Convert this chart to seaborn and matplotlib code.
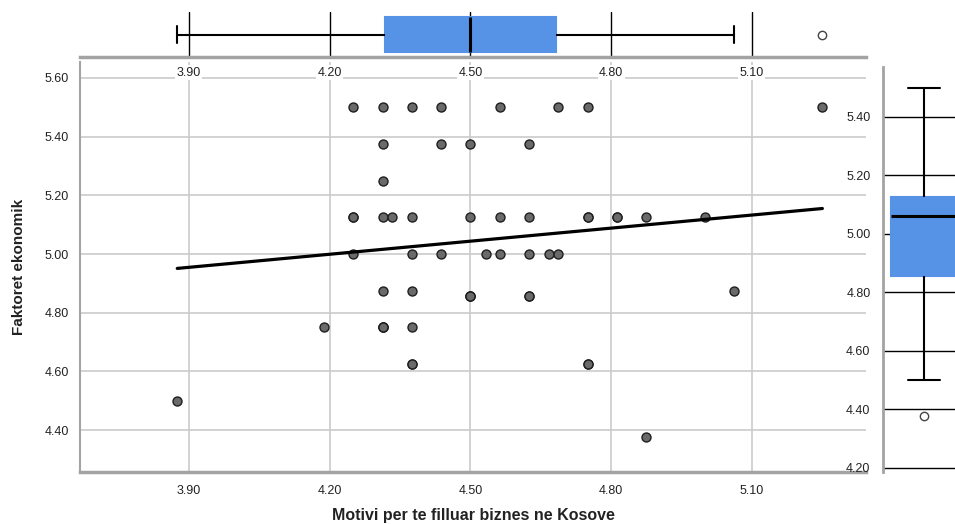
import numpy as np
import pandas as pd
import seaborn as sns
import matplotlib.pyplot as plt

# data (overlapping cases are listed more than once)
motivi = [4.25, 4.3125, 4.375, 4.4375, 4.5625, 4.6875, 4.75, 5.25,
          4.3125, 4.4375, 4.5, 4.625,
          4.3125,
          4.25, 4.3125, 4.333, 4.375, 4.5, 4.5625, 4.625, 4.75, 4.8125, 4.875, 5.0,
          4.25, 4.75, 4.8125,
          4.25, 4.375, 4.4375, 4.533, 4.5625, 4.625, 4.667, 4.6875,
          4.3125, 4.375, 5.0625,
          4.5, 4.625, 4.5, 4.5, 4.625,
          4.1875, 4.3125, 4.375, 4.3125, 4.3125,
          4.375, 4.75, 4.375, 4.75,
          3.875,
          4.875]
faktoret = [5.5, 5.5, 5.5, 5.5, 5.5, 5.5, 5.5, 5.5,
            5.375, 5.375, 5.375, 5.375,
            5.25,
            5.125, 5.125, 5.125, 5.125, 5.125, 5.125, 5.125, 5.125, 5.125, 5.125, 5.125,
            5.125, 5.125, 5.125,
            5.0, 5.0, 5.0, 5.0, 5.0, 5.0, 5.0, 5.0,
            4.875, 4.875, 4.875,
            4.857, 4.857, 4.857, 4.857, 4.857,
            4.75, 4.75, 4.75, 4.75, 4.75,
            4.625, 4.625, 4.625, 4.625,
            4.5,
            4.375]

x_ticks = [3.90, 4.20, 4.50, 4.80, 5.10]
y_ticks = [4.40, 4.60, 4.80, 5.00, 5.20, 5.40, 5.60]
box_y_ticks = [4.20, 4.40, 4.60, 4.80, 5.00, 5.20, 5.40]

x_label = "Motivi per te filluar biznes ne Kosove"
y_label = "Faktoret ekonomik"

df = pd.DataFrame({"motivi": motivi, "faktoret": faktoret})

sns.set_style("white")
plt.rcParams["font.family"] = ["Liberation Sans", "DejaVu Sans"]

box_color = "#5692e5"
grid_color = "#cbcbcb"
spine_color = "#a3a3a3"
text_color = "#222222"

W, H = 955, 524
fig = plt.figure(figsize=(W / 100, H / 100), dpi=100)
ax = fig.add_axes([80 / W, 52 / H, 786 / W, 410 / H])
ax_top = fig.add_axes([80 / W, (H - 57) / H, 786 / W, 45 / H])
ax_right = fig.add_axes([883 / W, 52 / H, 82 / W, 405 / H])

xlim = (3.6677, 5.343)

# main scatter with fit line
sns.regplot(data=df, x="motivi", y="faktoret", ax=ax, ci=None, truncate=True,
            scatter_kws=dict(s=42, color="#6a6a6a", edgecolor="#1e1e1e", linewidths=1, alpha=1),
            line_kws=dict(color="black", lw=2.3))
ax.set_xlim(*xlim)
ax.set_ylim(4.257, 5.6545)
ax.set_xticks(x_ticks)
ax.set_xticklabels([f"{v:.2f}" for v in x_ticks])
ax.set_yticks(y_ticks)
ax.set_yticklabels([f"{v:.2f}" for v in y_ticks])
ax.grid(True, color=grid_color, lw=1.2)
ax.set_axisbelow(True)
for s in ["top", "right"]:
    ax.spines[s].set_visible(False)
ax.spines["left"].set_color(spine_color)
ax.spines["left"].set_linewidth(1.5)
ax.spines["bottom"].set_color(spine_color)
ax.spines["bottom"].set_linewidth(2.5)
ax.tick_params(axis="both", length=0, labelsize=9, labelcolor=text_color)
ax.tick_params(axis="x", pad=9)
ax.tick_params(axis="y", pad=8)
ax.set_xlabel(x_label, fontsize=11.5, fontweight="bold", color=text_color, labelpad=8)
ax.set_ylabel(y_label, fontsize=11, fontweight="bold", color=text_color, labelpad=13)

# marginal boxplots
box_kws = dict(saturation=1, linecolor="black", linewidth=1.5,
               boxprops=dict(edgecolor=box_color),
               medianprops=dict(color="black", linewidth=2.2),
               flierprops=dict(marker="o", markerfacecolor="white", markeredgecolor="#444444",
                               markersize=6, markeredgewidth=1))

sns.boxplot(x=df["motivi"], ax=ax_top, orient="h", width=0.78, color=box_color, **box_kws)
ax_top.set_xlim(*xlim)
ax_top.set_ylim(0.5, -0.5)
ax_top.set_xticks(x_ticks)
ax_top.set_xticklabels([f"{v:.2f}" for v in x_ticks])
ax_top.set_yticks([])
ax_top.set_xlabel("")
ax_top.set_ylabel("")
ax_top.grid(True, axis="x", color="black", lw=1)
ax_top.set_axisbelow(True)
for s in ["top", "right", "left"]:
    ax_top.spines[s].set_visible(False)
ax_top.spines["bottom"].set_color(spine_color)
ax_top.spines["bottom"].set_linewidth(2.5)
ax_top.tick_params(axis="x", length=0, pad=7, labelsize=9, labelcolor=text_color)
for t in ax_top.get_xticklabels():
    t.set_bbox(dict(facecolor="white", edgecolor="none", pad=1))

sns.boxplot(y=df["faktoret"], ax=ax_right, orient="v", width=0.8, color=box_color, **box_kws)
ax_right.set_xlim(-0.5, 0.5)
ax_right.set_ylim(4.185, 5.571)
ax_right.set_yticks(box_y_ticks)
ax_right.set_yticklabels([f"{v:.2f}" for v in box_y_ticks])
ax_right.set_xticks([])
ax_right.set_xlabel("")
ax_right.set_ylabel("")
ax_right.grid(True, axis="y", color="black", lw=1)
ax_right.set_axisbelow(True)
for s in ["top", "right", "bottom"]:
    ax_right.spines[s].set_visible(False)
ax_right.spines["left"].set_color(spine_color)
ax_right.spines["left"].set_linewidth(2)
ax_right.tick_params(axis="y", length=7, width=1, color="black", pad=2,
                     labelsize=9, labelcolor=text_color)

fig.savefig("out.png", dpi=100)
